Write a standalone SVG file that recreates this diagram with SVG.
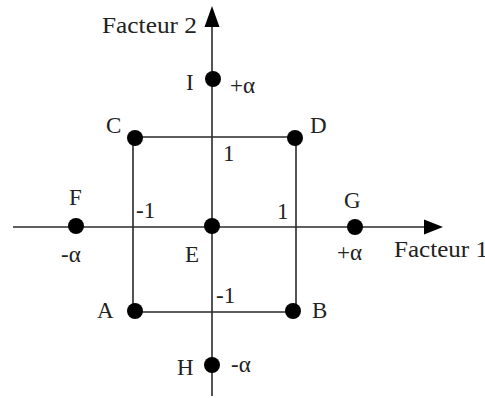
<svg xmlns="http://www.w3.org/2000/svg" width="485" height="398" viewBox="0 0 485 398">
<style>
text{font-family:"Liberation Serif","Times New Roman",serif;font-size:23px;fill:#222}
.ln{stroke:#2a2a2a;stroke-width:1.6;fill:none}
.dot{fill:#000}
</style>
<defs>
<marker id="ah" viewBox="0 0 10 10" refX="10" refY="5" markerWidth="9" markerHeight="9" markerUnits="userSpaceOnUse" orient="auto">
<path d="M0,0 L10,5 L0,10 z" fill="#000"/>
</marker>
</defs>
<rect width="485" height="398" fill="#fff"/>
<g id="connectors">
<line class="ln" x1="212" y1="396" x2="212" y2="26"/>
<path d="M212,6 L219.5,27 L204.5,27 z" fill="#000"/>
<line class="ln" x1="13" y1="227" x2="426" y2="227"/>
<path d="M443,227 L424,219.5 L424,234.5 z" fill="#000"/>
<path class="ln" d="M133,137 L296,137 L296,312 L133,312 z"/>
</g>
<g id="axis-labels">
<text x="102" y="33" textLength="95" lengthAdjust="spacingAndGlyphs">Facteur 2</text>
<text x="394" y="257" textLength="94" lengthAdjust="spacingAndGlyphs">Facteur 1</text>
<text x="223" y="161">1</text>
<text x="136" y="218">-1</text>
<text x="277" y="219">1</text>
<text x="216" y="303">-1</text>
</g>
<g id="node-I"><circle class="dot" cx="213" cy="79" r="8"/><text x="186" y="90">I</text><text x="230" y="93">+α</text></g>
<g id="node-C"><circle class="dot" cx="135" cy="138" r="8"/><text x="106" y="133">C</text></g>
<g id="node-D"><circle class="dot" cx="295" cy="138" r="8"/><text x="310" y="133">D</text></g>
<g id="node-F"><circle class="dot" cx="76" cy="226" r="8"/><text x="69" y="205">F</text><text x="61" y="262">-α</text></g>
<g id="node-E"><circle class="dot" cx="212" cy="226" r="8"/><text x="185" y="262">E</text></g>
<g id="node-G"><circle class="dot" cx="355" cy="227" r="8"/><text x="344" y="208">G</text><text x="337" y="260">+α</text></g>
<g id="node-A"><circle class="dot" cx="135" cy="311" r="8"/><text x="97" y="318">A</text></g>
<g id="node-B"><circle class="dot" cx="293" cy="311" r="8"/><text x="312" y="318">B</text></g>
<g id="node-H"><circle class="dot" cx="212" cy="365" r="8"/><text x="177" y="375">H</text><text x="231" y="372">-α</text></g>
</svg>
